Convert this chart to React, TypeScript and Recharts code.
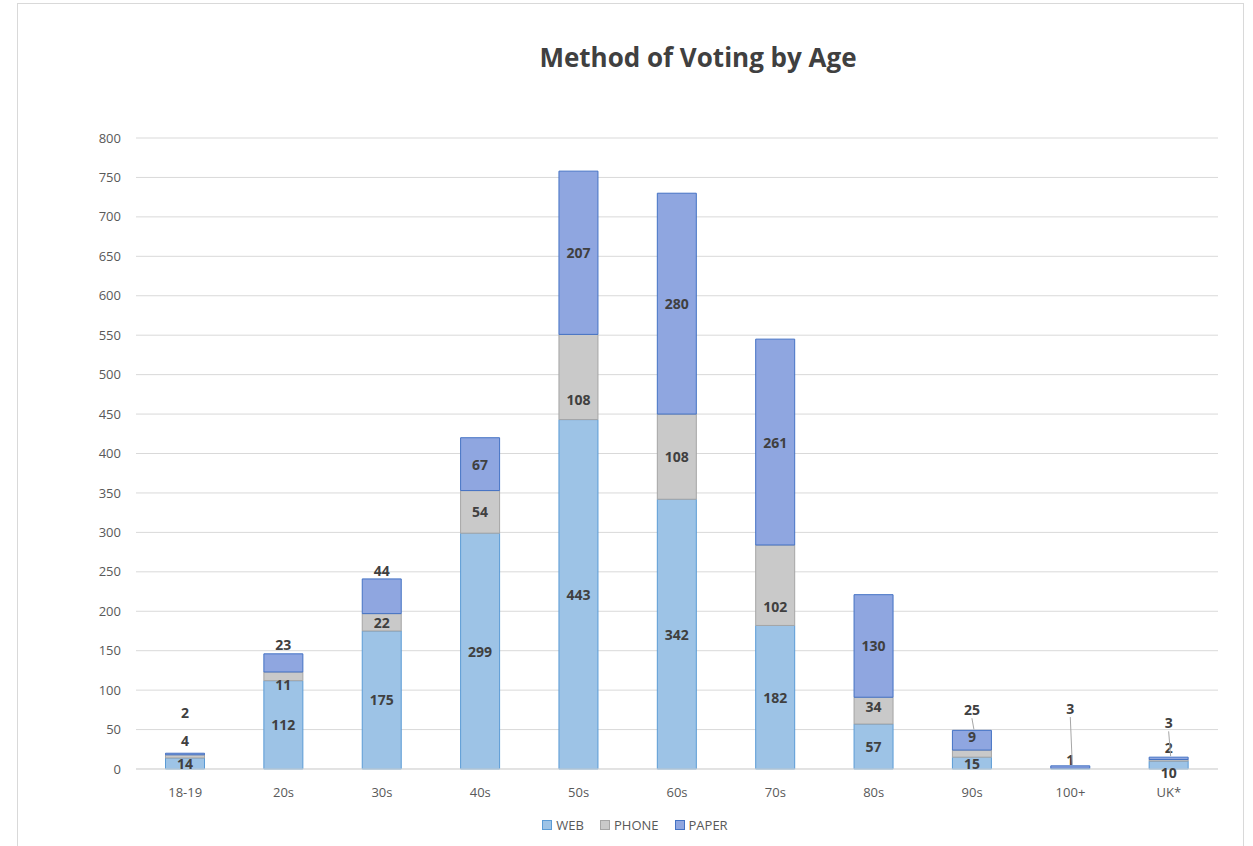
import React from 'react';
import { BarChart, Bar, XAxis, YAxis, CartesianGrid, Legend, LabelList } from 'recharts';

const categories = ['18-19', '20s', '30s', '40s', '50s', '60s', '70s', '80s', '90s', '100+', 'UK*'];
const web = [14, 112, 175, 299, 443, 342, 182, 57, 15, 1, 10];
const phone = [4, 11, 22, 54, 108, 108, 102, 34, 9, 0, 2];
const paper = [2, 23, 44, 67, 207, 280, 261, 130, 25, 3, 3];
const yTicks = [0, 50, 100, 150, 200, 250, 300, 350, 400, 450, 500, 550, 600, 650, 700, 750, 800];

const chartData = categories.map((name, i) => ({
  name,
  web: web[i],
  phone: phone[i],
  paper: paper[i],
}));

// hand-moved data labels (Excel style): vertical nudge in px and optional leader line
const labelNudge: Record<string, { dy: number; leader?: boolean }> = {
  '18-19|phone': { dy: -16 },
  '18-19|paper': { dy: -42 },
  '20s|phone': { dy: 8 },
  '20s|paper': { dy: -18 },
  '30s|paper': { dy: -26 },
  '50s|phone': { dy: 23 },
  '70s|phone': { dy: 21 },
  '80s|phone': { dy: -4 },
  '90s|phone': { dy: -17 },
  '90s|paper': { dy: -31, leader: true },
  '100+|web': { dy: -9 },
  '100+|paper': { dy: -59, leader: true },
  'UK*|web': { dy: 7 },
  'UK*|phone': { dy: -13 },
  'UK*|paper': { dy: -36, leader: true },
};

const FONT = '"Open Sans", "Noto Sans", sans-serif';

const makeAccessor = (series: string) => (entry: any) => {
  const p = entry && entry.payload;
  if (p && p.name !== undefined) return `${p.name}|${p[series]}`;
  return entry ? entry.value : undefined;
};

const makeLabel = (series: string) => (props: any) => {
  const { x, y, width, height, value, index } = props;
  let cat = categories[index];
  let val: any = value;
  if (typeof value === 'string' && value.includes('|')) {
    const parts = value.split('|');
    cat = parts[0];
    val = Number(parts[1]);
  }
  if (!val) return null;
  const nudge = labelNudge[`${cat}|${series}`];
  const cx = Number(x) + Number(width) / 2;
  const cy = Number(y) + Number(height) / 2 + (nudge ? nudge.dy : 0);
  return (
    <g>
      {nudge && nudge.leader && (
        <line x1={cx} y1={cy + 9} x2={cx + 2} y2={Number(y) - 1} stroke="#A6A6A6" strokeWidth={1} />
      )}
      <text
        x={cx}
        y={cy}
        textAnchor="middle"
        dominantBaseline="central"
        fontFamily={FONT}
        fontWeight={700}
        fontSize={14}
        fill="#404040"
      >
        {val}
      </text>
    </g>
  );
};

const legendItems = [
  { label: 'WEB', fill: '#9DC3E6', stroke: '#5B9BD5' },
  { label: 'PHONE', fill: '#C9C9C9', stroke: '#A5A5A5' },
  { label: 'PAPER', fill: '#8FA6E0', stroke: '#4472C4' },
];

const renderLegend = () => (
  <div style={{ display: 'flex', justifyContent: 'center', gap: 16, fontFamily: FONT, fontSize: 13, color: '#595959' }}>
    {legendItems.map(it => (
      <div key={it.label} style={{ display: 'flex', alignItems: 'center' }}>
        <span style={{ display: 'inline-block', width: 8, height: 8, background: it.fill, border: `1px solid ${it.stroke}`, marginRight: 4 }} />
        {it.label}
      </div>
    ))}
  </div>
);

const App: React.FC = () => {
  return (
    <div style={{ position: 'absolute', left: 0, top: 0, width: 1253, height: 846, background: '#fff', overflow: 'hidden' }}>
      <div style={{ position: 'absolute', left: 17, top: 3, width: 1225, height: 860, border: '1px solid #D9D9D9' }} />
      <div
        style={{
          position: 'absolute',
          left: 398,
          width: 600,
          top: 39,
          textAlign: 'center',
          fontFamily: FONT,
          fontWeight: 700,
          fontSize: 26,
          color: '#404040',
        }}
      >
        Method of Voting by Age
      </div>
      <div style={{ position: 'absolute', left: 0, top: 0 }}>
        <BarChart
          width={1253}
          height={846}
          data={chartData}
          margin={{ top: 138, right: 35, left: 76, bottom: 23 }}
          barCategoryGap="30%"
        >
          <CartesianGrid vertical={false} stroke="#D9D9D9" />
          <XAxis
            dataKey="name"
            axisLine={{ stroke: '#D9D9D9' }}
            tickLine={false}
            height={30}
            tick={{ fill: '#595959', fontSize: 13, fontFamily: FONT }}
            tickMargin={13}
          />
          <YAxis
            width={60}
            domain={[0, 800]}
            ticks={yTicks}
            axisLine={false}
            tickLine={false}
            interval={0}
            tick={{ fill: '#595959', fontSize: 13, fontFamily: FONT, dx: -7 }}
          />
          <Legend
            verticalAlign="bottom"
            height={24}
            content={renderLegend}
            wrapperStyle={{ left: 0, width: 1270, top: 816 }}
          />
          <Bar dataKey="web" stackId="a" fill="#9DC3E6" stroke="#5B9BD5" isAnimationActive={false}>
            <LabelList valueAccessor={makeAccessor('web')} content={makeLabel('web')} />
          </Bar>
          <Bar dataKey="phone" stackId="a" fill="#C9C9C9" stroke="#A5A5A5" isAnimationActive={false}>
            <LabelList valueAccessor={makeAccessor('phone')} content={makeLabel('phone')} />
          </Bar>
          <Bar dataKey="paper" stackId="a" fill="#8FA6E0" stroke="#4472C4" isAnimationActive={false}>
            <LabelList valueAccessor={makeAccessor('paper')} content={makeLabel('paper')} />
          </Bar>
        </BarChart>
      </div>
    </div>
  );
};

export default App;
